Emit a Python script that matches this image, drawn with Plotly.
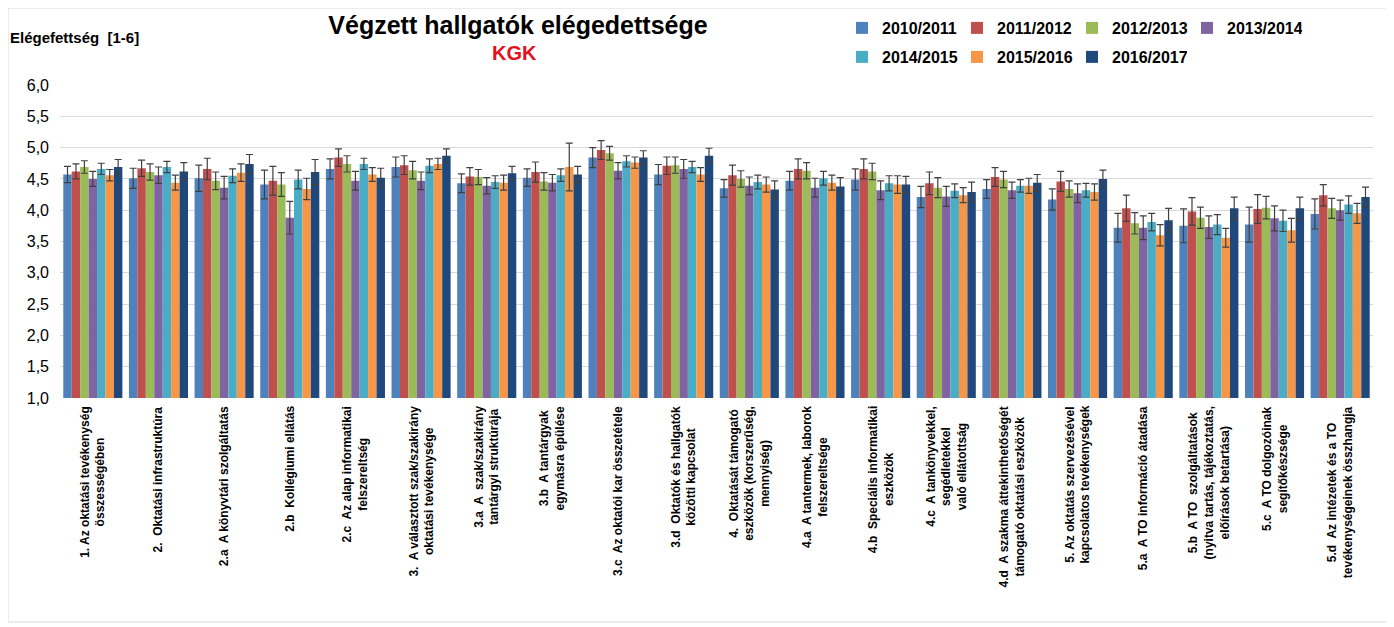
import plotly.graph_objects as go

categories = [
    "1. Az oktatási tevékenység<br>összességében",
    "2.  Oktatási infrastruktúra",
    "2.a  A könyvtári szolgáltatás",
    "2.b  Kollégiumi ellátás",
    "2.c  Az alap informatikai<br>felszereltség",
    "3.  A választott szak/szakirány<br>oktatási tevékenysége",
    "3.a  A  szak/szakirány<br>tantárgyi struktúrája",
    "3.b  A tantárgyak<br>egymásra épülése",
    "3.c  Az oktatói kar összetétele",
    "3.d  Oktatók és hallgatók<br>közötti kapcsolat",
    "4.  Oktatását támogató<br>eszközök (korszerűség,<br>mennyiség)",
    "4.a  A tantermek, laborok<br>felszereltsége",
    "4.b  Speciális informatikai<br>eszközök",
    "4.c  A tankönyvekkel,<br>segédletekkel<br>való ellátottság",
    "4.d  A szakma áttekinthetőségét<br>támogató oktatási eszközök",
    "5. Az oktatás szervezésével<br>kapcsolatos tevékenységek",
    "5.a  A TO információ átadása",
    "5.b  A TO  szolgáltatások<br>(nyitva tartás, tájékoztatás,<br>előírások betartása)",
    "5.c  A TO dolgozóinak<br>segítőkészsége",
    "5.d  Az intézetek és a TO<br>tevékenységeinek összhangja",
]

series_names = ["2010/2011", "2011/2012", "2012/2013", "2013/2014",
                "2014/2015", "2015/2016", "2016/2017"]

v_2010_2011 = [4.57, 4.51, 4.51, 4.41, 4.66, 4.69, 4.43, 4.52, 4.84, 4.57, 4.35, 4.47, 4.49, 4.21, 4.34, 4.17, 3.72, 3.75, 3.77, 3.94]
v_2011_2012 = [4.62, 4.67, 4.66, 4.47, 4.84, 4.72, 4.54, 4.61, 4.96, 4.71, 4.56, 4.66, 4.66, 4.43, 4.53, 4.46, 4.03, 3.98, 4.02, 4.24]
v_2012_2013 = [4.69, 4.61, 4.47, 4.41, 4.74, 4.64, 4.53, 4.46, 4.91, 4.72, 4.50, 4.63, 4.62, 4.36, 4.49, 4.34, 3.79, 3.88, 4.04, 4.03]
v_2013_2014 = [4.50, 4.56, 4.36, 3.88, 4.47, 4.47, 4.39, 4.44, 4.63, 4.66, 4.39, 4.36, 4.32, 4.22, 4.32, 4.27, 3.72, 3.73, 3.87, 4.00]
v_2014_2015 = [4.66, 4.69, 4.55, 4.49, 4.74, 4.71, 4.45, 4.56, 4.78, 4.69, 4.45, 4.51, 4.43, 4.31, 4.39, 4.32, 3.81, 3.77, 3.83, 4.09]
v_2015_2016 = [4.56, 4.44, 4.60, 4.34, 4.57, 4.74, 4.44, 4.69, 4.76, 4.57, 4.41, 4.44, 4.41, 4.24, 4.39, 4.29, 3.60, 3.56, 3.68, 3.95]
v_2016_2017 = [4.69, 4.62, 4.74, 4.61, 4.52, 4.87, 4.59, 4.57, 4.84, 4.87, 4.33, 4.38, 4.41, 4.29, 4.44, 4.50, 3.84, 4.03, 4.03, 4.21]

e_2010_2011 = [0.13, 0.16, 0.21, 0.23, 0.16, 0.16, 0.15, 0.14, 0.16, 0.16, 0.14, 0.15, 0.17, 0.17, 0.15, 0.17, 0.23, 0.27, 0.28, 0.24]
e_2011_2012 = [0.12, 0.13, 0.17, 0.23, 0.14, 0.15, 0.14, 0.16, 0.15, 0.14, 0.16, 0.16, 0.16, 0.18, 0.15, 0.16, 0.21, 0.22, 0.23, 0.17]
e_2012_2013 = [0.10, 0.13, 0.14, 0.19, 0.13, 0.14, 0.12, 0.14, 0.11, 0.13, 0.13, 0.13, 0.13, 0.16, 0.13, 0.13, 0.17, 0.17, 0.18, 0.16]
e_2013_2014 = [0.12, 0.13, 0.18, 0.26, 0.15, 0.14, 0.13, 0.13, 0.13, 0.15, 0.14, 0.15, 0.15, 0.16, 0.13, 0.15, 0.19, 0.18, 0.20, 0.16]
e_2014_2015 = [0.09, 0.09, 0.11, 0.15, 0.09, 0.11, 0.10, 0.10, 0.09, 0.09, 0.11, 0.11, 0.12, 0.11, 0.10, 0.11, 0.14, 0.16, 0.17, 0.14]
e_2015_2016 = [0.09, 0.12, 0.14, 0.17, 0.11, 0.09, 0.12, 0.38, 0.09, 0.11, 0.12, 0.12, 0.14, 0.12, 0.12, 0.13, 0.17, 0.15, 0.19, 0.16]
e_2016_2017 = [0.12, 0.14, 0.15, 0.20, 0.15, 0.11, 0.11, 0.13, 0.11, 0.12, 0.14, 0.14, 0.13, 0.16, 0.13, 0.14, 0.19, 0.18, 0.18, 0.16]

y_ticks = [1.0, 1.5, 2.0, 2.5, 3.0, 3.5, 4.0, 4.5, 5.0, 5.5, 6.0]

values = [v_2010_2011, v_2011_2012, v_2012_2013, v_2013_2014, v_2014_2015, v_2015_2016, v_2016_2017]
errors = [e_2010_2011, e_2011_2012, e_2012_2013, e_2013_2014, e_2014_2015, e_2015_2016, e_2016_2017]
colors = ["#4F81BD", "#C0504D", "#9BBB59", "#8064A2", "#4BACC6", "#F79646", "#1F497D"]

FONT = "Arial, 'Liberation Sans', sans-serif"
OFF = 8  # page body margin offset
W, H = 1386, 619
L, R, T, B = 52, 21, 77, 229
plot_w = W - L - R
plot_h = H - T - B


def px_x(sx):
    # screen x -> paper x
    return (sx - OFF - L) / plot_w


def px_y(sy):
    # screen y -> paper y
    return (H - B - (sy - OFF)) / plot_h


fig = go.Figure()
for i, (name, vals, errs, col) in enumerate(zip(series_names, values, errors, colors)):
    fig.add_trace(go.Bar(
        x=categories, y=vals, name=name,
        marker=dict(color=col, line=dict(width=0)),
        error_y=dict(type="data", array=errs, visible=True,
                     color="#404040", thickness=1.2, width=3.5),
        legend="legend" if i < 4 else "legend2",
    ))

annotations = []
for c in categories:
    annotations.append(dict(
        x=c, xref="x", y=0, yref="paper", yanchor="top", xanchor="center",
        yshift=-6, text="<b>" + c + "</b>", showarrow=False, textangle=-90,
        align="center", font=dict(family=FONT, size=12, color="#000000"),
    ))

annotations.append(dict(
    x=px_x(515), y=px_y(53), xref="paper", yref="paper", xanchor="center", yanchor="middle",
    text="<b>KGK</b>", showarrow=False, font=dict(family=FONT, size=20, color="#E3111B")))
annotations.append(dict(
    x=px_x(8), y=px_y(38), xref="paper", yref="paper", xanchor="left", yanchor="middle",
    text="<b>Elégefettség  [1-6]</b>", showarrow=False, font=dict(family=FONT, size=15, color="#000000")))

legend_font = dict(family=FONT, size=16, color="#000000", weight="bold")

fig.update_layout(
    width=W, height=H,
    margin=dict(l=L, r=R, t=T, b=B, autoexpand=False),
    paper_bgcolor="white", plot_bgcolor="white",
    separators=", ",
    barmode="group", bargap=0.1, bargroupgap=0.0,
    title=dict(text="<b>Végzett hallgatók elégedettsége</b>", x=(518 - OFF) / W, xanchor="center",
               y=1 - (25 - OFF) / H, yanchor="middle", xref="container", yref="container",
               font=dict(family=FONT, size=25, color="#000000")),
    xaxis=dict(showticklabels=False, showline=False, ticks="", showgrid=False),
    yaxis=dict(range=[1, 6], tickvals=y_ticks, tickformat=".1f", showgrid=True,
               gridcolor="#D9D9D9", gridwidth=1, zeroline=False, showline=False,
               ticklabelstandoff=10,
               tickfont=dict(family=FONT, size=16, color="#000000")),
    legend=dict(orientation="h", x=px_x(842), xanchor="left", y=px_y(28), yanchor="middle",
                entrywidth=70, traceorder="normal", font=legend_font, bgcolor="rgba(0,0,0,0)"),
    legend2=dict(orientation="h", x=px_x(842), xanchor="left", y=px_y(57), yanchor="middle",
                 entrywidth=70, traceorder="normal", font=legend_font, bgcolor="rgba(0,0,0,0)"),
    annotations=annotations,
    shapes=[dict(type="rect", xref="paper", yref="paper",
                 x0=px_x(8), x1=px_x(1389), y0=px_y(622), y1=px_y(8),
                 line=dict(color="#D9D9D9", width=1), fillcolor="rgba(0,0,0,0)", layer="below")],
    showlegend=True,
)

fig.write_html("out.html")
